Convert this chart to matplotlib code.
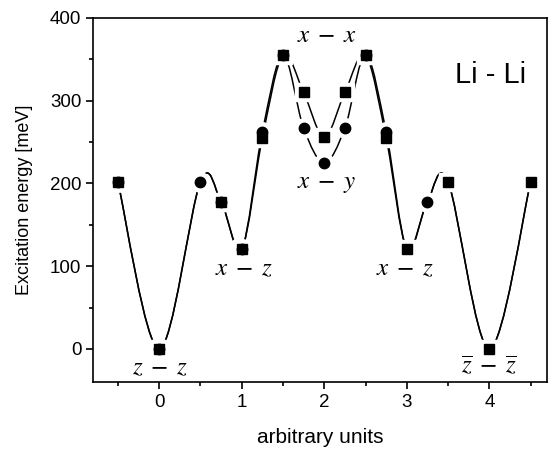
import numpy as np
import matplotlib
matplotlib.use("Agg")
import matplotlib.pyplot as plt
from matplotlib.path import Path
from matplotlib.patches import PathPatch

plt.rcParams['font.family'] = ['Liberation Sans', 'DejaVu Sans']
plt.rcParams['mathtext.fontset'] = 'stix'

# x positions along the path
x_all = [-0.5, 0.0, 0.5, 0.75, 1.0, 1.25, 1.5, 1.75, 2.0, 2.25, 2.5, 2.75, 3.0, 3.25, 3.5, 4.0, 4.5]
# upper branch (squares) and lower branch (circles), meV
e_sq = [202, 0, 202, 178, 121, 255, 355, 310, 256, 310, 355, 255, 121, 178, 202, 0, 202]
e_ci = [202, 0, 202, 178, 121, 262, 355, 267, 225, 267, 355, 262, 121, 178, 202, 0, 202]
# which points carry a visible symbol
show_sq = [1, 1, 0, 1, 1, 1, 1, 1, 1, 1, 1, 1, 1, 0, 1, 1, 1]
show_ci = [1, 1, 1, 1, 1, 1, 1, 1, 1, 1, 1, 1, 0, 1, 0, 0, 0]

labels = [r'$x\;-\;x$', r'$x\;-\;y$', r'$x\;-\;z$', r'$x\;-\;z$',
          r'$z\;-\;z$', r'$\overline{z}\;-\;\overline{z}$']
label_x = [2.03, 2.03, 1.02, 2.98, 0.01, 4.0]
label_y = [380, 200, 98, 98, -22, -20]


# smooth guide line through the points (Catmull-Rom as Bezier pieces)
def spline_path(xs, ys):
    p = np.column_stack([xs, ys]).astype(float)
    p = np.vstack([p[0], p, p[-1]])
    verts = [p[1]]
    codes = [Path.MOVETO]
    for i in range(1, len(p) - 2):
        c1 = p[i] + (p[i + 1] - p[i - 1]) / 6
        c2 = p[i + 1] - (p[i + 2] - p[i]) / 6
        verts += [c1, c2, p[i + 1]]
        codes += [Path.CURVE4] * 3
    return Path(verts, codes)


fig = plt.figure(figsize=(5.51, 4.5), dpi=100)
ax = fig.add_axes([0.169, 0.151, 0.824, 0.809])

for ys in (e_sq, e_ci):
    ax.add_patch(PathPatch(spline_path(x_all, ys), fill=False, color='black', lw=1.1))

xs_sq = [x for x, s in zip(x_all, show_sq) if s]
ys_sq = [y for y, s in zip(e_sq, show_sq) if s]
xs_ci = [x for x, s in zip(x_all, show_ci) if s]
ys_ci = [y for y, s in zip(e_ci, show_ci) if s]

# white halo to leave a gap between line and symbol
ax.plot(xs_sq, ys_sq, 's', ms=13, color='white', zorder=3)
ax.plot(xs_ci, ys_ci, 'o', ms=14, color='white', zorder=3)
ax.plot(xs_sq, ys_sq, 's', ms=7, color='black', zorder=4)
ax.plot(xs_ci, ys_ci, 'o', ms=7.5, color='black', zorder=4)

for t, lx, ly in zip(labels, label_x, label_y):
    ax.text(lx, ly, t, fontsize=18, ha='center', va='center', zorder=5)

ax.text(4.01, 331, 'Li - Li', fontsize=21, ha='center', va='center')

ax.set_xlim(-0.8, 4.7)
ax.set_ylim(-40, 400)
ax.set_xticks([0, 1, 2, 3, 4])
ax.set_xticks([-0.5, 0.5, 1.5, 2.5, 3.5, 4.5], minor=True)
ax.set_yticks([0, 100, 200, 300, 400])
ax.set_yticks([50, 150, 250, 350], minor=True)
ax.tick_params(which='both', direction='out', top=False, right=False, labelsize=13.5, width=1.2)
ax.tick_params(which='major', length=5)
ax.tick_params(which='minor', length=3)
for s in ax.spines.values():
    s.set_linewidth(1.2)

ax.set_xlabel('arbitrary units', fontsize=15, labelpad=12)
ax.set_ylabel('Excitation energy [meV]', fontsize=13, labelpad=12)

fig.savefig('out.png', dpi=100)
